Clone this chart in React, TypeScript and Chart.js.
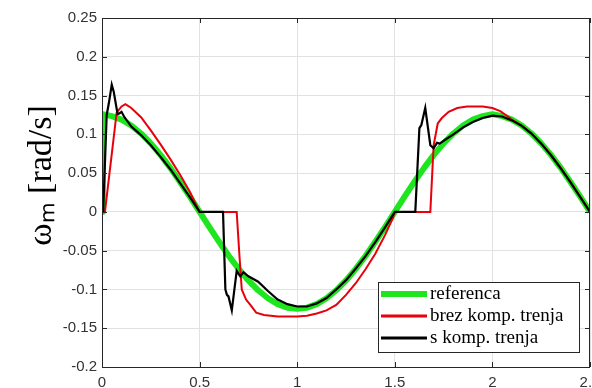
import React, { useEffect, useRef } from 'react';
import { Chart, registerables } from 'chart.js';

Chart.register(...registerables);

// ---- data ----
const refT = [0, 0.004, 0.05, 0.1, 0.15, 0.2, 0.25, 0.3, 0.35, 0.4, 0.45, 0.5, 0.55, 0.6, 0.65, 0.7, 0.75, 0.8, 0.85, 0.9, 0.95, 1.0, 1.05, 1.1, 1.15, 1.2, 1.25, 1.3, 1.35, 1.4, 1.45, 1.5, 1.55, 1.6, 1.65, 1.7, 1.75, 1.8, 1.85, 1.9, 1.95, 2.0, 2.05, 2.1, 2.15, 2.2, 2.25, 2.3, 2.35, 2.4, 2.45, 2.5];
const refW = [0, 0.126, 0.1235, 0.1189, 0.1114, 0.1011, 0.0884, 0.0735, 0.0568, 0.0386, 0.0196, 0, -0.0196, -0.0386, -0.0568, -0.0735, -0.0884, -0.1011, -0.1114, -0.1189, -0.1235, -0.125, -0.1235, -0.1189, -0.1114, -0.1011, -0.0884, -0.0735, -0.0568, -0.0386, -0.0196, 0, 0.0196, 0.0386, 0.0568, 0.0735, 0.0884, 0.1011, 0.1114, 0.1189, 0.1235, 0.126, 0.1235, 0.1189, 0.1114, 0.1011, 0.0884, 0.0735, 0.0568, 0.0386, 0.0196, 0];

const brezT = [0, 0.015, 0.075, 0.1, 0.12, 0.15, 0.2, 0.25, 0.3, 0.35, 0.4, 0.45, 0.49, 0.5, 0.69, 0.705, 0.716, 0.738, 0.76, 0.79, 0.83, 0.9, 1.0, 1.05, 1.1, 1.15, 1.2, 1.25, 1.3, 1.35, 1.4, 1.45, 1.49, 1.5, 1.682, 1.699, 1.72, 1.741, 1.776, 1.82, 1.87, 1.95, 2.0, 2.04, 2.08, 2.1, 2.15, 2.2, 2.25, 2.3, 2.35, 2.4, 2.45, 2.5];
const brezW = [0, 0, 0.128, 0.136, 0.139, 0.134, 0.122, 0.105, 0.087, 0.068, 0.048, 0.026, 0.005, 0, 0, -0.06, -0.1, -0.113, -0.12, -0.13, -0.133, -0.135, -0.135, -0.134, -0.131, -0.127, -0.12, -0.107, -0.092, -0.074, -0.054, -0.03, -0.008, 0, 0, 0.086, 0.114, 0.121, 0.129, 0.134, 0.136, 0.136, 0.134, 0.13, 0.123, 0.119, 0.1114, 0.1011, 0.0884, 0.0735, 0.0568, 0.0386, 0.0196, 0];

const sT = [0, 0.006, 0.024, 0.035, 0.05, 0.06, 0.08, 0.09, 0.1, 0.115, 0.13, 0.15, 0.2, 0.25, 0.3, 0.35, 0.4, 0.45, 0.5, 0.62, 0.632, 0.64, 0.648, 0.665, 0.69, 0.7, 0.708, 0.725, 0.75, 0.8, 0.85, 0.9, 0.95, 1.0, 1.05, 1.1, 1.15, 1.2, 1.25, 1.3, 1.35, 1.4, 1.45, 1.5, 1.605, 1.626, 1.636, 1.656, 1.682, 1.699, 1.716, 1.73, 1.758, 1.8, 1.85, 1.9, 1.95, 2.0, 2.05, 2.1, 2.15, 2.2, 2.25, 2.3, 2.35, 2.4, 2.45, 2.5];
const sW = [0, 0, 0.125, 0.14, 0.164, 0.155, 0.126, 0.127, 0.129, 0.122, 0.117, 0.11, 0.099, 0.086, 0.071, 0.055, 0.037, 0.019, 0, 0, -0.1, -0.107, -0.109, -0.127, -0.076, -0.08, -0.083, -0.078, -0.083, -0.09, -0.102, -0.113, -0.119, -0.122, -0.122, -0.118, -0.111, -0.1, -0.088, -0.073, -0.057, -0.039, -0.02, 0, 0, 0.108, 0.112, 0.134, 0.086, 0.082, 0.089, 0.088, 0.093, 0.1, 0.109, 0.116, 0.121, 0.124, 0.123, 0.118, 0.111, 0.101, 0.088, 0.073, 0.056, 0.038, 0.019, 0];

const seriesLabels = ['referenca', 'brez komp. trenja', 's komp. trenja'];
const xTicks = [0, 0.5, 1, 1.5, 2, 2.5];
const yTicks = [-0.2, -0.15, -0.1, -0.05, 0, 0.05, 0.1, 0.15, 0.2, 0.25];
const yTitle = '    \u03c9\u2098 [rad/s]';

const toPts = (t: number[], w: number[]) => t.map((x, i) => ({ x, y: w[i] }));
const fmt = (v: number) => String(Number(Number(v).toFixed(2)));

const framePlugin = {
  id: 'frameTicksLegend',
  afterDatasetsDraw(chart: any) {
    const { ctx, chartArea: a, scales } = chart;
    ctx.save();
    ctx.strokeStyle = '#262626';
    ctx.lineWidth = 1;
    ctx.strokeRect(a.left + 0.5, a.top + 0.5, a.right - a.left - 1, a.bottom - a.top);
    ctx.beginPath();
    for (const v of xTicks) {
      const px = Math.round(scales.x.getPixelForValue(v)) + 0.5;
      ctx.moveTo(px, a.bottom); ctx.lineTo(px, a.bottom - 5);
      ctx.moveTo(px, a.top); ctx.lineTo(px, a.top + 5);
    }
    for (const v of yTicks) {
      const py = Math.round(scales.y.getPixelForValue(v)) + 0.5;
      ctx.moveTo(a.left, py); ctx.lineTo(a.left + 5, py);
      ctx.moveTo(a.right, py); ctx.lineTo(a.right - 5, py);
    }
    ctx.stroke();
    ctx.restore();
  },
  afterDraw(chart: any) {
    const { ctx, chartArea: a } = chart;
    const ds = chart.data.datasets;
    const bw = 201, bh = 70;
    const bx = a.right - 11 - bw;
    const by = a.bottom - 15 - bh;
    ctx.save();
    ctx.fillStyle = '#ffffff';
    ctx.fillRect(bx, by, bw, bh);
    ctx.strokeStyle = '#262626';
    ctx.lineWidth = 1;
    ctx.strokeRect(bx + 0.5, by + 0.5, bw, bh);
    ctx.font = '19px "Liberation Serif", serif';
    ctx.textBaseline = 'middle';
    ctx.textAlign = 'left';
    ds.forEach((d: any, i: number) => {
      const y = by + 12 + i * 22;
      ctx.strokeStyle = d.borderColor;
      ctx.lineWidth = i === 0 ? 6 : 3;
      ctx.beginPath();
      ctx.moveTo(bx + 3, y);
      ctx.lineTo(bx + 49, y);
      ctx.stroke();
      ctx.fillStyle = '#000';
      ctx.fillText(d.label, bx + 52, y);
    });
    ctx.restore();
  },
};

export default function App() {
  const ref = useRef<HTMLCanvasElement | null>(null);
  useEffect(() => {
    if (!ref.current) return;
    const chart = new Chart(ref.current, {
      type: 'line',
      data: {
        datasets: [
          { label: seriesLabels[0], data: toPts(refT, refW), borderColor: '#1ee61e', borderWidth: 6, pointRadius: 0, tension: 0, order: 3, borderJoinStyle: 'round' },
          { label: seriesLabels[1], data: toPts(brezT, brezW), borderColor: '#e8000b', borderWidth: 2, pointRadius: 0, tension: 0, order: 2 },
          { label: seriesLabels[2], data: toPts(sT, sW), borderColor: '#000000', borderWidth: 2.2, pointRadius: 0, tension: 0, order: 1 },
        ],
      },
      options: {
        animation: false,
        responsive: false,
        layout: { padding: { left: 0, top: 18, right: 2, bottom: 0 } },
        plugins: { legend: { display: false }, tooltip: { enabled: false } },
        scales: {
          x: {
            type: 'linear',
            min: 0,
            max: 2.5,
            afterBuildTicks: (s: any) => { s.ticks = xTicks.map((v) => ({ value: v })); },
            afterFit: (s: any) => { s.height = 21; s.paddingLeft = 0; s.paddingRight = 0; },
            grid: { color: '#e2e2e2', lineWidth: 1, drawTicks: false },
            border: { display: false },
            ticks: { padding: 7, color: '#333', font: { family: '"Liberation Sans", Arial, sans-serif', size: 15 }, callback: (v: any) => fmt(v), maxRotation: 0, autoSkip: false },
          },
          y: {
            type: 'linear',
            min: -0.2,
            max: 0.25,
            afterBuildTicks: (s: any) => { s.ticks = yTicks.map((v) => ({ value: v })); },
            afterFit: (s: any) => { s.width = 102; s.paddingTop = 0; s.paddingBottom = 0; },
            grid: { color: '#e2e2e2', lineWidth: 1, drawTicks: false },
            border: { display: false },
            ticks: { padding: 5, color: '#333', font: { family: '"Liberation Sans", Arial, sans-serif', size: 15 }, callback: (v: any) => fmt(v), autoSkip: false },
            title: { display: true, text: yTitle, color: '#000', font: { family: '"Liberation Serif", serif', size: 34 }, padding: { top: 22, bottom: 0 } },
          },
        },
      },
      plugins: [framePlugin],
    } as any);
    return () => chart.destroy();
  }, []);
  return (
    <div style={{ position: 'fixed', left: 0, top: 0, width: 592, height: 388, background: '#fff' }}>
      <canvas ref={ref} width={592} height={388} style={{ display: 'block' }} />
    </div>
  );
}
